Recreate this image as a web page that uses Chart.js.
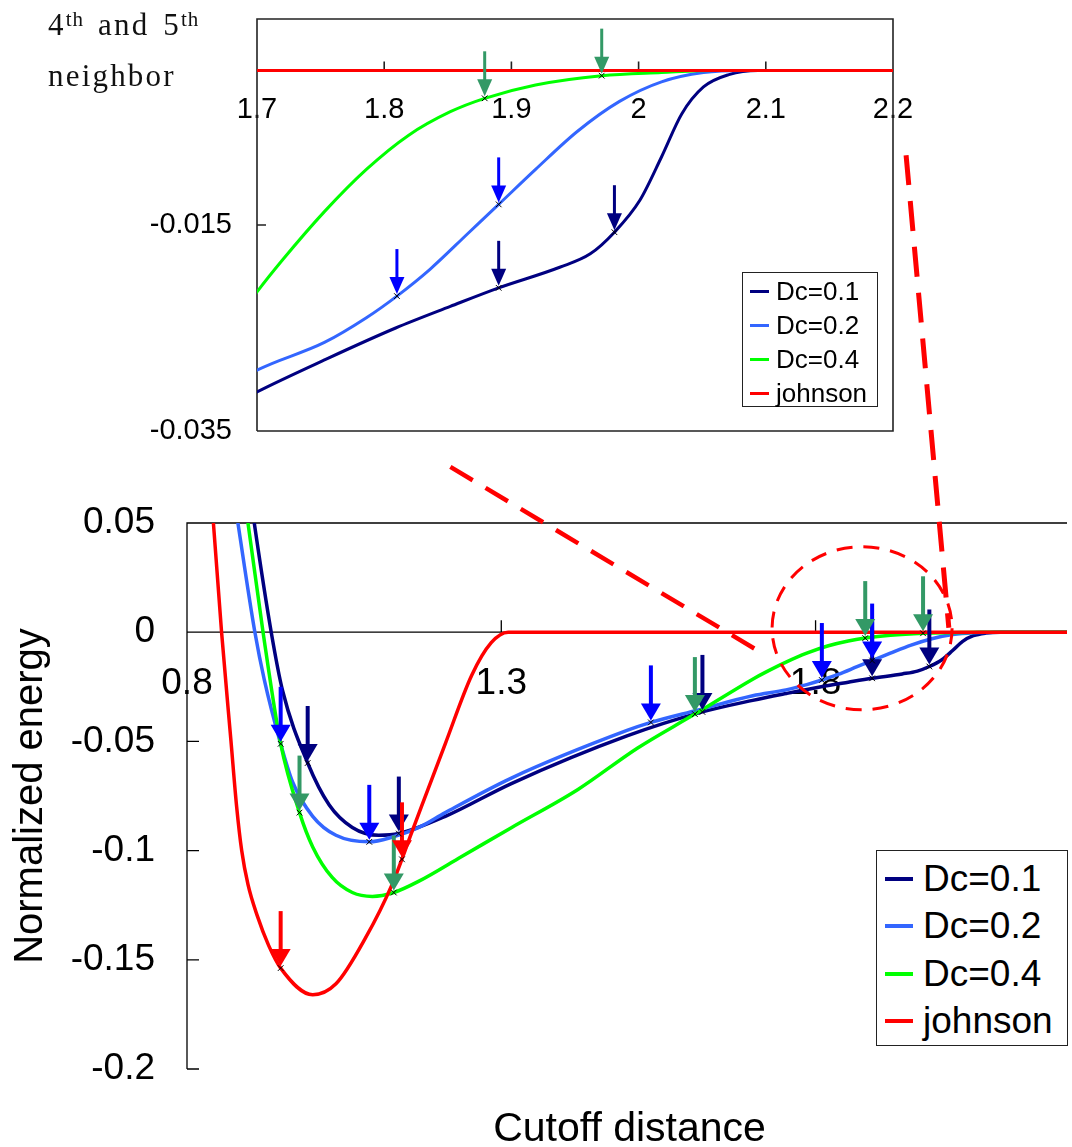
<!DOCTYPE html>
<html>
<head>
<meta charset="utf-8">
<script src="https://cdn.jsdelivr.net/npm/chart.js@4.4.1/dist/chart.umd.min.js"></script>
<style>
  html, body { margin: 0; padding: 0; background: #fff; }
  body { width: 1072px; height: 1147px; position: relative; overflow: hidden;
         font-family: "Liberation Sans", Arial, sans-serif; color: #000; }
  canvas { position: absolute; left: 0; top: 0; }
  .txt { position: absolute; white-space: nowrap; z-index: 5; }
  #note { left: 48px; top: 1px; font-family: "Liberation Serif", "Times New Roman", serif;
          font-size: 31px; line-height: 47px; letter-spacing: 2.2px; word-spacing: 4px; color: #111; }
  #note sup { font-size: 21px; vertical-align: baseline; position: relative; top: -9px; letter-spacing: 1px; }
  #ytitle { width: 500px; height: 48px; line-height: 48px; left: -222px; top: 772px;
            transform: rotate(-90deg); text-align: center; font-size: 40px; }
  #xtitle { left: 187px; width: 885px; top: 1103px; line-height: 48px; text-align: center; font-size: 41px; }
  .legend { position: absolute; z-index: 6; background: #fff; border: 1.5px solid #222; box-sizing: border-box; }
  .legend .row { display: flex; align-items: center; }
  .legend .sw { display: inline-block; }
  #legMain { left: 876px; top: 850px; width: 192px; height: 196px; padding-top: 4px; font-size: 37px; }
  #legMain .row { height: 47.5px; }
  #legMain .sw { width: 28px; height: 4px; margin: 0 10px 0 8px; }
  #legInset { left: 742px; top: 272px; width: 136px; height: 135px; padding-top: 1px; font-size: 26px; }
  #legInset .row { height: 34px; }
  #legInset .sw { width: 19px; height: 3px; margin: 0 7px 0 7px; }
</style>
</head>
<body>
<canvas id="main" width="1072" height="1147"></canvas>
<canvas id="inset" width="1072" height="470"></canvas>
<div id="note" class="txt">4<sup>th</sup> and 5<sup>th</sup><br>neighbor</div>
<div id="ytitle" class="txt">Normalized energy</div>
<div id="xtitle" class="txt">Cutoff distance</div>
<div id="legMain" class="legend"></div>
<div id="legInset" class="legend"></div>
<script>
// axis ticks
const mainXTicks = [0.8, 1.3, 1.8];
const mainYTicks = [-0.2, -0.15, -0.1, -0.05, 0, 0.05];
const insetXTicks = [1.7, 1.8, 1.9, 2, 2.1, 2.2];
const insetYTicks = [-0.035, -0.015];

const seriesNames = ['Dc=0.1', 'Dc=0.2', 'Dc=0.4', 'johnson'];
const seriesColors = ['#000080', '#3366ff', '#00ff00', '#ff0000'];
const arrowColors = ['#000080', '#0000ff', '#339966', '#ff0000'];

// curves
const dc01X = [0.895, 0.907, 0.934, 0.952, 0.992, 1.026, 1.063, 1.105, 1.137, 1.211, 1.316, 1.50, 1.62, 1.70, 1.753, 1.809, 1.852, 1.890, 1.938, 1.962, 1.981, 2.001, 2.018, 2.034, 2.051, 2.071, 2.094, 2.2];
const dc01Y = [0.075, 0.05, 0, -0.0267, -0.0599, -0.079, -0.0894, -0.093, -0.0922, -0.0843, -0.0693, -0.0475, -0.0365, -0.0312, -0.0281, -0.025, -0.0229, -0.0211, -0.0191, -0.0178, -0.0157, -0.0126, -0.0084, -0.0042, -0.0016, -0.0004, 0, 0];

const dc02X = [0.87, 0.881, 0.908, 0.923, 0.949, 0.968, 1.0, 1.037, 1.090, 1.126, 1.169, 1.211, 1.316, 1.50, 1.538, 1.612, 1.70, 1.753, 1.786, 1.810, 1.836, 1.866, 1.890, 1.919, 1.952, 1.985, 2.018, 2.051, 2.084, 2.2];
const dc02Y = [0.071, 0.05, 0, -0.0218, -0.0511, -0.0686, -0.0843, -0.093, -0.096, -0.0939, -0.0894, -0.0826, -0.0668, -0.045, -0.0413, -0.0357, -0.0291, -0.0264, -0.024, -0.0219, -0.0193, -0.0158, -0.013, -0.0096, -0.0059, -0.003, -0.0011, -0.0002, 0, 0];

const dc04X = [0.885, 0.897, 0.921, 0.949, 0.979, 1.0, 1.031, 1.063, 1.095, 1.129, 1.169, 1.237, 1.316, 1.422, 1.517, 1.608, 1.70, 1.72, 1.753, 1.786, 1.819, 1.852, 1.879, 1.919, 1.971, 2.018, 2.06, 2.2];
const dc04Y = [0.073, 0.05, 0, -0.051, -0.0826, -0.0983, -0.1123, -0.1192, -0.121, -0.1192, -0.114, -0.1027, -0.0895, -0.072, -0.053, -0.0375, -0.0215, -0.0184, -0.0137, -0.0096, -0.0063, -0.004, -0.0027, -0.0014, -0.0005, -0.0002, 0, 0];

const johnX = [0.836, 0.842, 0.855, 0.870, 0.879, 0.887, 0.897, 0.912, 0.930, 0.949, 1.0, 1.037, 1.084, 1.126, 1.158, 1.211, 1.253, 1.284, 1.311, 2.2];
const johnY = [0.075, 0.05, 0, -0.05, -0.08, -0.1, -0.1155, -0.130, -0.1435, -0.1538, -0.166, -0.161, -0.140, -0.1157, -0.0913, -0.051, -0.0197, -0.0048, 0, 0];

// neighbour shells (x marks + arrows)
const markDc01X = [0.992, 1.137, 1.62, 1.890, 1.981];
const markDc01Y = [-0.0599, -0.0922, -0.0365, -0.0211, -0.0157];
const markDc02X = [0.949, 1.090, 1.538, 1.810, 1.890];
const markDc02Y = [-0.0511, -0.096, -0.0413, -0.0219, -0.013];
const markDc04X = [0.979, 1.129, 1.608, 1.879, 1.971];
const markDc04Y = [-0.0826, -0.1192, -0.0375, -0.0027, -0.0005];
const markJohnX = [0.949, 1.142];
const markJohnY = [-0.1538, -0.104];

const curves = [[dc01X, dc01Y], [dc02X, dc02Y], [dc04X, dc04Y], [johnX, johnY]];
const marks = [[markDc01X, markDc01Y], [markDc02X, markDc02Y], [markDc04X, markDc04Y], [markJohnX, markJohnY]];

const FONT = '"Liberation Sans", Arial, sans-serif';

function pts(xs, ys) { return xs.map((x, i) => ({ x: x, y: ys[i] })); }

function makeDatasets(lw) {
  const ds = curves.map((c, i) => ({
    label: seriesNames[i],
    data: pts(c[0], c[1]),
    borderColor: seriesColors[i],
    borderWidth: lw,
    pointRadius: 0,
    fill: false,
    cubicInterpolationMode: 'monotone',
    order: i === 3 ? 1 : 5 - i
  }));
  ds.push({
    label: 'marks',
    data: marks.flatMap(m => pts(m[0], m[1])),
    showLine: false,
    pointStyle: 'crossRot',
    pointRadius: 4,
    borderColor: '#000',
    borderWidth: 1,
    order: 0
  });
  return ds;
}

// axes box, zero line and inward tick marks
const framePlugin = {
  id: 'frame',
  beforeDatasetsDraw(chart, args, o) {
    const { ctx, chartArea: a, scales: { x, y } } = chart;
    ctx.save();
    ctx.strokeStyle = o.color;
    ctx.lineWidth = o.width;
    ctx.beginPath();
    ctx.moveTo(a.left, a.bottom);
    ctx.lineTo(a.left, a.top);
    ctx.lineTo(a.right, a.top);
    if (o.box) { ctx.lineTo(a.right, a.bottom); ctx.lineTo(a.left, a.bottom); }
    const y0 = y.getPixelForValue(0);
    ctx.moveTo(a.left, y0);
    ctx.lineTo(a.right, y0);
    o.yTicks.forEach(v => {
      const py = y.getPixelForValue(v);
      ctx.moveTo(a.left, py);
      ctx.lineTo(a.left + o.tick, py);
    });
    o.xTicks.forEach(v => {
      const px = x.getPixelForValue(v);
      if (px > a.left + 2 && px < a.right - 2) {
        ctx.moveTo(px, y0);
        ctx.lineTo(px, y0 - o.tick);
      }
    });
    ctx.stroke();
    ctx.restore();
  }
};

// arrows pointing at the marks, drawn after the last curve and before the marks
const arrowPlugin = {
  id: 'arrows',
  afterDatasetDraw(chart, args, o) {
    if (args.index !== 3) return;
    const { ctx, scales: { x, y } } = chart;
    ctx.save();
    marks.forEach((m, i) => {
      ctx.fillStyle = arrowColors[i];
      ctx.strokeStyle = arrowColors[i];
      m[0].forEach((mx, j) => {
        if (mx < x.min || mx > x.max) return;
        const px = x.getPixelForValue(mx);
        const tip = y.getPixelForValue(m[1][j]) - o.gap;
        const hb = tip - o.head;
        ctx.lineWidth = o.shaft;
        ctx.beginPath();
        ctx.moveTo(px, hb + 1);
        ctx.lineTo(px, hb - o.len);
        ctx.stroke();
        ctx.beginPath();
        ctx.moveTo(px - o.headW / 2, hb);
        ctx.lineTo(px + o.headW / 2, hb);
        ctx.lineTo(px, tip);
        ctx.closePath();
        ctx.fill();
      });
    });
    ctx.restore();
  }
};

// dashed zoom guide: circle round the 4th/5th neighbour region and two lines to the inset
const guidePlugin = {
  id: 'guide',
  afterDraw(chart, args, o) {
    const { ctx, scales: { x, y } } = chart;
    const P = v => [x.getPixelForValue(v[0]), y.getPixelForValue(v[1])];
    ctx.save();
    ctx.strokeStyle = '#ff0000';
    o.lines.forEach(l => {
      const a = P(l.from), b = P(l.to);
      ctx.lineWidth = l.w;
      ctx.setLineDash(l.dash);
      ctx.beginPath();
      ctx.moveTo(a[0], a[1]);
      ctx.lineTo(b[0], b[1]);
      ctx.stroke();
    });
    const c = P(o.circle.center);
    ctx.lineWidth = o.circle.w;
    ctx.setLineDash(o.circle.dash);
    ctx.beginPath();
    ctx.ellipse(c[0], c[1], o.circle.rx, o.circle.ry, 0, 0, Math.PI * 2);
    ctx.stroke();
    ctx.restore();
  }
};

function tickFont(size) { return { family: FONT, size: size }; }

new Chart(document.getElementById('main'), {
  type: 'line',
  data: { datasets: makeDatasets(3.5) },
  options: {
    responsive: false,
    animation: false,
    devicePixelRatio: 1,
    layout: { padding: { left: 0, top: 523, right: 0, bottom: 78 } },
    scales: {
      x: {
        type: 'linear', min: 0.8, max: 2.2, position: { y: 0 },
        afterBuildTicks: s => { s.ticks = mainXTicks.map(v => ({ value: v })); },
        grid: { display: false, drawTicks: false },
        border: { display: false },
        ticks: { padding: 29, maxRotation: 0, autoSkip: false, color: '#000', font: tickFont(37),
                 callback: v => String(v) }
      },
      y: {
        type: 'linear', min: -0.2, max: 0.05,
        afterFit: s => { s.width = 187; },
        afterBuildTicks: s => { s.ticks = mainYTicks.map(v => ({ value: v })); },
        grid: { display: false, drawTicks: false },
        border: { display: false },
        ticks: { padding: 32, autoSkip: false, color: '#000', font: tickFont(37),
                 callback: v => String(v) }
      }
    },
    plugins: {
      legend: { display: false },
      tooltip: { enabled: false },
      frame: { box: false, tick: 12, width: 1.3, color: '#000', xTicks: mainXTicks, yTicks: mainYTicks },
      arrows: { len: 38, head: 17, headW: 20, shaft: 4, gap: 2 },
      guide: {
        lines: [
          { from: [1.219, 0.0757], to: [1.719, -0.0103], w: 4.5, dash: [26, 15] },
          { from: [1.944, 0.2184], to: [2.012, 0.002], w: 5, dash: [30, 16] }
        ],
        circle: { center: [1.874, 0.0018], rx: 90, ry: 81.5, w: 3, dash: [16, 11] }
      }
    }
  },
  plugins: [framePlugin, arrowPlugin, guidePlugin]
});

new Chart(document.getElementById('inset'), {
  type: 'line',
  data: { datasets: makeDatasets(3) },
  options: {
    responsive: false,
    animation: false,
    devicePixelRatio: 1,
    layout: { padding: { left: 0, top: 19, right: 179, bottom: 39 } },
    scales: {
      x: {
        type: 'linear', min: 1.7, max: 2.2, position: { y: 0 },
        afterBuildTicks: s => { s.ticks = insetXTicks.map(v => ({ value: v })); },
        grid: { display: false, drawTicks: false },
        border: { display: false },
        ticks: { padding: 22, maxRotation: 0, autoSkip: false, color: '#000', font: tickFont(29),
                 callback: v => String(v) }
      },
      y: {
        type: 'linear', min: -0.035, max: 0.005,
        afterFit: s => { s.width = 257; s.paddingTop = 0; s.paddingBottom = 0; },
        afterBuildTicks: s => { s.ticks = insetYTicks.map(v => ({ value: v })); },
        grid: { display: false, drawTicks: false },
        border: { display: false },
        ticks: { padding: 25, autoSkip: false, color: '#000', font: tickFont(29),
                 callback: v => String(v) }
      }
    },
    plugins: {
      legend: { display: false },
      tooltip: { enabled: false },
      frame: { box: true, tick: 9, width: 1.6, color: '#222', xTicks: insetXTicks, yTicks: insetYTicks },
      arrows: { len: 28, head: 17, headW: 15, shaft: 3, gap: 2 }
    }
  },
  plugins: [framePlugin, arrowPlugin]
});

function buildLegend(id) {
  const box = document.getElementById(id);
  seriesNames.forEach((n, i) => {
    const row = document.createElement('div');
    row.className = 'row';
    const sw = document.createElement('span');
    sw.className = 'sw';
    sw.style.background = seriesColors[i];
    const t = document.createElement('span');
    t.textContent = n;
    row.appendChild(sw);
    row.appendChild(t);
    box.appendChild(row);
  });
}
buildLegend('legMain');
buildLegend('legInset');
</script>
</body>
</html>
